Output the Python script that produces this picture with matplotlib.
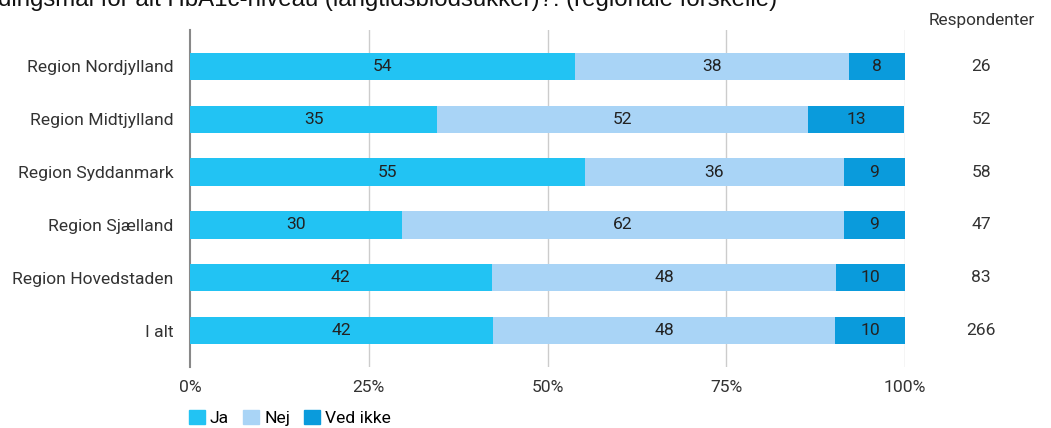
import matplotlib
matplotlib.use('Agg')
import matplotlib.pyplot as plt
import matplotlib.patches as mpatches
import numpy as np

plt.rcParams['font.family'] = ['Roboto', 'DejaVu Sans']

regions = ['Region Nordjylland', 'Region Midtjylland', 'Region Syddanmark',
           'Region Sjælland', 'Region Hovedstaden', 'I alt']
ja = [53.8, 34.6, 55.2, 29.7, 42.2, 42.4]
nej = [38.4, 51.9, 36.2, 61.7, 48.2, 47.8]
ved_ikke = [7.8, 13.4, 8.6, 8.6, 9.6, 9.8]
respondenter = [26, 52, 58, 47, 83, 266]
series_names = ['Ja', 'Nej', 'Ved ikke']
colors = ['#22C3F3', '#A9D4F6', '#0A9BDC']
xticks = [0, 25, 50, 75, 100]
title = 'dingsmål for alt HbA1c-niveau (langtidsblodsukker)?: (regionale forskelle)'

W, H = 1051, 428
fig = plt.figure(figsize=(W / 100, H / 100), dpi=100)
ax = fig.add_axes([190 / W, 1 - 367 / H, 715 / W, 337 / H])

fs = 12.6
y = np.arange(len(regions))
left = np.zeros(len(regions))
for vals, name, c in zip([ja, nej, ved_ikke], series_names, colors):
    vals = np.array(vals)
    ax.barh(y, vals, left=left, height=0.51, color=c, label=name, zorder=3)
    for yi, l, v in zip(y, left, vals):
        ax.text(l + v / 2, yi, f'{v:.0f}', ha='center', va='center',
                fontsize=fs, color='#222222', zorder=4)
    left += vals

ax.set_xlim(0, 100)
ax.set_ylim(len(regions) - 1 + 0.68, -0.68)
ax.set_yticks(y)
ax.set_yticklabels(regions, fontsize=fs, color='#333333')
ax.set_xticks(xticks)
ax.set_xticklabels([f'{t}%' for t in xticks], fontsize=fs, color='#333333')
ax.tick_params(axis='y', length=0, pad=12)
ax.tick_params(axis='x', length=0, pad=9)
for t in xticks[1:]:
    ax.axvline(t, color='#cccccc', lw=1, zorder=1)
for s in ['top', 'right', 'bottom']:
    ax.spines[s].set_visible(False)
ax.spines['left'].set_color('#888888')
ax.spines['left'].set_linewidth(1.5)

# respondent column
fig.text(982 / W, 1 - 20 / H, 'Respondenter', ha='center', va='center',
         fontsize=12.4, color='#333333')
for yi, n in zip(y, respondenter):
    ax.text(1.1065, yi, str(n), transform=ax.get_yaxis_transform(),
            ha='center', va='center', fontsize=fs, color='#333333')

# title, cut off at the top as in the source
fig.text(-2 / W, 1 - 6 / H, title, ha='left', va='baseline', fontsize=17.3,
         family='Liberation Sans', color='#111111')

handles = [mpatches.Patch(color=c, label=n) for c, n in zip(colors, series_names)]
fig.legend(handles=handles, loc='center left', bbox_to_anchor=(189 / W, 10 / H),
           ncol=3, frameon=False, fontsize=fs, handlelength=0.9, handleheight=0.9,
           handletextpad=0.3, columnspacing=0.8, borderpad=0, borderaxespad=0)

fig.savefig('out.png', dpi=100)
